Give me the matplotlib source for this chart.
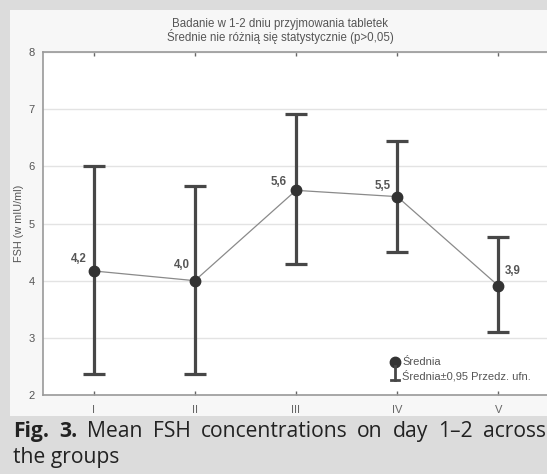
import matplotlib
matplotlib.use("Agg")
import matplotlib.pyplot as plt
from matplotlib.patches import Rectangle

# ---- data ----
groups = ["I", "II", "III", "IV", "V"]
means = [4.17, 4.00, 5.58, 5.47, 3.91]
ci_low = [2.37, 2.37, 4.29, 4.51, 3.10]
ci_high = [6.01, 5.66, 6.91, 6.45, 4.77]
y_ticks = [2, 3, 4, 5, 6, 7, 8]
title_lines = ["Badanie w 1-2 dniu przyjmowania tabletek",
               "Średnie nie różnią się statystycznie (p>0,05)"]
ylabel = "FSH (w mIU/ml)"
legend_labels = ["Średnia", "Średnia±0,95 Przedz. ufn."]
caption_bold = ["Fig.", "3."]
caption_line1 = ["Mean", "FSH", "concentrations", "on", "day", "1–2", "across"]
caption_line2 = "the groups"

# label offsets in pixels (style)
label_offsets = [(-15, 12), (-13, 16), (-17, 8), (-15, 11), (14, 15)]

W, H = 547, 474
fig = plt.figure(figsize=(W / 100, H / 100), dpi=100)
fig.patch.set_facecolor("#dcdcdc")

# light panel behind chart
fig.add_artist(Rectangle((10 / W, 1 - 416 / H), 1 - 10 / W, (416 - 10) / H,
                         transform=fig.transFigure, facecolor="#f7f7f7",
                         edgecolor="none", zorder=0))

ax = fig.add_axes([43 / W, 1 - 395 / H, 506 / W, 343 / H])
ax.set_facecolor("white")
x = list(range(1, len(groups) + 1))

ax.set_xlim(0.5, 5.5)
ax.set_ylim(2, 8)
ax.set_yticks(y_ticks)
ax.set_xticks(x)
ax.set_xticklabels(groups)
ax.grid(axis="y", color="#e3e3e3", linewidth=1.0)
ax.set_axisbelow(True)

for s in ["left", "bottom", "top"]:
    ax.spines[s].set_color("#999999")
    ax.spines[s].set_linewidth(1.2)
ax.spines["right"].set_visible(False)

ax.tick_params(axis="x", direction="in", length=3, width=1, color="#666666",
               top=True, labelsize=8, labelcolor="#666666", pad=7)
ax.tick_params(axis="y", length=0, labelsize=8, labelcolor="#555555", pad=6)
for lab in ax.get_xticklabels() + ax.get_yticklabels():
    lab.set_family("Liberation Sans")

ax.set_ylabel(ylabel, fontsize=7.8, color="#555555", family="Liberation Sans",
              labelpad=3)

# connecting line
ax.plot(x, means, color="#8a8a8a", linewidth=0.9, zorder=2)
# error bars
yerr = [[m - lo for m, lo in zip(means, ci_low)],
        [hi - m for m, hi in zip(means, ci_high)]]
ax.errorbar(x, means, yerr=yerr, fmt="none", ecolor="#474747", elinewidth=2.3,
            capsize=8, capthick=2.3, zorder=3)
ax.plot(x, means, "o", color="#333333", markersize=7.5, zorder=4)

for xi, m, off in zip(x, means, label_offsets):
    ax.annotate(f"{m:.1f}".replace(".", ","), (xi, m), xytext=off,
                textcoords="offset pixels", ha="center", va="center",
                fontsize=8.3, fontweight="bold", color="#555555",
                family="Liberation Sans")

# title
fig.text(280 / W, 1 - 24 / H, title_lines[0], ha="center", va="center",
         fontsize=8.3, color="#555555", family="Liberation Sans")
fig.text(280 / W, 1 - 36 / H, title_lines[1], ha="center", va="center",
         fontsize=8.3, color="#555555", family="Liberation Sans")

# legend (manual)
lx = (395 - 43) / 506
ax.plot([lx], [(395 - 362) / 343], "o", color="#333333", markersize=7.5,
        transform=ax.transAxes, clip_on=False, zorder=5)
ax.plot([lx, lx], [(395 - 380) / 343, (395 - 366) / 343], color="#474747",
        linewidth=2, transform=ax.transAxes, clip_on=False, zorder=5)
ax.plot([lx - 4 / 506, lx + 4 / 506], [(395 - 380) / 343] * 2,
        color="#474747", linewidth=2, transform=ax.transAxes,
        clip_on=False, zorder=5)
tx = (402 - 43) / 506
ax.text(tx, (395 - 362) / 343, legend_labels[0], transform=ax.transAxes,
        ha="left", va="center", fontsize=8, color="#555555",
        family="Liberation Sans")
ax.text(tx, (395 - 376) / 343, legend_labels[1], transform=ax.transAxes,
        ha="left", va="center", fontsize=8, color="#555555",
        family="Liberation Sans")

# caption (justified first line)
cap_font = "Open Sans"
cap_size = 15.2
renderer = fig.canvas.get_renderer()
words = [(w, "bold") for w in caption_bold] + [(w, "normal") for w in caption_line1]
widths = []
for w, wt in words:
    t = fig.text(0, 0, w, fontsize=cap_size, family=cap_font, fontweight=wt)
    bb = t.get_window_extent(renderer)
    widths.append(bb.width)
    t.remove()
x0, x1 = 13, 546
gap = (x1 - x0 - sum(widths)) / (len(words) - 1)
cx = x0
for (w, wt), wd in zip(words, widths):
    fig.text(cx / W, 1 - 437 / H, w, fontsize=cap_size, family=cap_font,
             fontweight=wt, color="#222222", ha="left", va="baseline")
    cx += wd + gap
fig.text(13 / W, 1 - 463 / H, caption_line2, fontsize=cap_size, family=cap_font,
         color="#222222", ha="left", va="baseline")

fig.savefig("out.png", dpi=100, facecolor=fig.get_facecolor())
